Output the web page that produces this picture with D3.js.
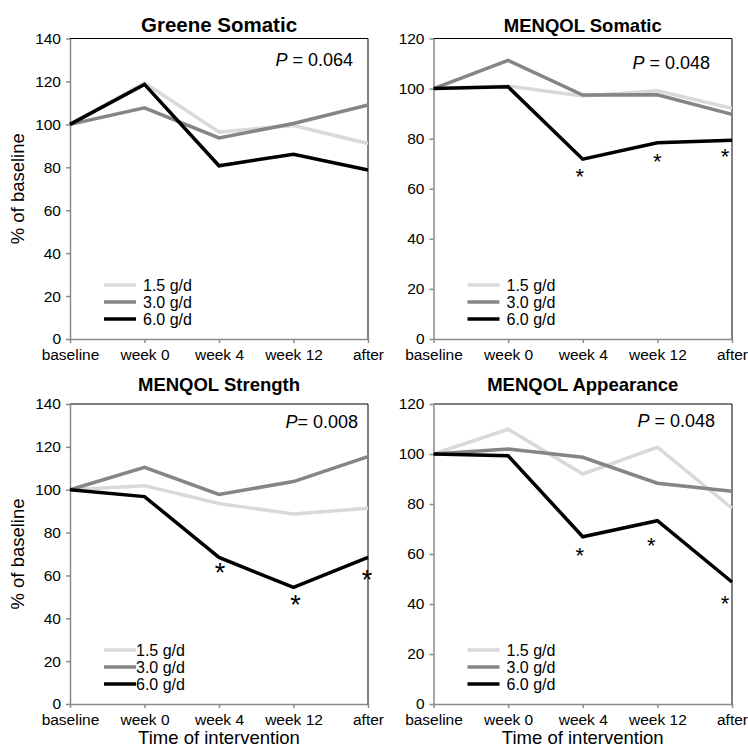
<!DOCTYPE html>
<html>
<head>
<meta charset="utf-8">
<script src="https://cdn.jsdelivr.net/npm/d3@7"></script>
<style>
  html, body { margin: 0; padding: 0; background: #fff; }
  svg { display: block; font-family: "Liberation Sans", Arial, Helvetica, sans-serif; }
</style>
</head>
<body>
<svg id="chart" width="748" height="748"></svg>
<script>
// ---- data ----
const categories = ["baseline", "week 0", "week 4", "week 12", "after"];
const doses = ["1.5 g/d", "3.0 g/d", "6.0 g/d"];
const doseColors = ["#d9d9d9", "#858585", "#000000"];

const greene15 = [100, 119.4, 96.5, 99.5, 91.1];
const greene30 = [100, 107.7, 93.7, 100.4, 109.0];
const greene60 = [100, 118.6, 80.7, 86.1, 78.7];

const somatic15 = [100, 101.0, 97.0, 99.1, 92.1];
const somatic30 = [100, 111.3, 97.4, 97.5, 89.7];
const somatic60 = [100, 100.7, 71.8, 78.4, 79.4];

const strength15 = [100, 101.9, 93.6, 88.7, 91.3];
const strength30 = [100, 110.4, 97.8, 103.8, 115.4];
const strength60 = [100, 96.8, 68.4, 54.4, 68.4];

const appear15 = [100, 109.9, 92.0, 102.7, 78.3];
const appear30 = [100, 102.0, 98.7, 88.3, 85.1];
const appear60 = [100, 99.3, 66.9, 73.3, 48.8];

const titles = ["Greene Somatic", "MENQOL Somatic", "MENQOL Strength", "MENQOL Appearance"];
const pLabels = [" = 0.064", " = 0.048", "= 0.008", " = 0.048"];
const yMaxes = [140, 120, 140, 120];
const yTickStep = 20;

// significance asterisks: category and value where the mark sits
const somaticStarCats = ["week 4", "week 12", "after"];
const somaticStarVals = [66.8, 72.8, 74.8];
const strengthStarCats = ["week 4", "week 12", "after"];
const strengthStarVals = [64.1, 49.3, 61.0];
const appearStarCats = ["week 4", "week 12", "after"];
const appearStarVals = [61.6, 65.6, 42.5];

// ---- layout ----
const panels = [
  { series: [greene15, greene30, greene60], stars: null,
    box: { l: 70, r: 368, t: 38.5, b: 339 }, titleY: 32, pdx: 15, pdy: 27, yLabel: true, xLabel: false,
    starDx: [], starFs: 22, legGap: 7 },
  { series: [somatic15, somatic30, somatic60], stars: [somaticStarCats, somaticStarVals],
    box: { l: 433.5, r: 732, t: 38.5, b: 339 }, titleY: 32, pdx: 22, pdy: 30, yLabel: false, xLabel: false,
    starDx: [-3, 0, -7], starFs: 22, legGap: 7 },
  { series: [strength15, strength30, strength60], stars: [strengthStarCats, strengthStarVals],
    box: { l: 70, r: 368, t: 404, b: 704 }, titleY: 391, pdx: 10, pdy: 24, yLabel: true, xLabel: true,
    starDx: [1, 2, -1], starFs: 27, legGap: 0 },
  { series: [appear15, appear30, appear60], stars: [appearStarCats, appearStarVals],
    box: { l: 433.5, r: 732, t: 404, b: 704 }, titleY: 391, pdx: 17, pdy: 23, yLabel: false, xLabel: true,
    starDx: [-3, -6, -7], starFs: 22, legGap: 7 }
];

const svg = d3.select("#chart");

panels.forEach((p, i) => {
  const { l, r, t, b } = p.box;
  const g = svg.append("g");
  const x = d3.scalePoint().domain(categories).range([l, r]);
  const y = d3.scaleLinear().domain([0, yMaxes[i]]).range([b, t]);

  // frame: top and right (black, thin)
  g.append("path")
    .attr("d", `M${l},${t}H${r}V${b}`)
    .attr("fill", "none").attr("stroke", "#000").attr("stroke-width", 1);

  // y axis
  const yAxis = g.append("g").attr("transform", `translate(${l},0)`)
    .call(d3.axisLeft(y).tickValues(d3.range(0, yMaxes[i] + 1, yTickStep)).tickSize(4).tickPadding(5).tickSizeOuter(0));
  yAxis.select(".domain").attr("stroke", "#8a8a8a").attr("stroke-width", 1.5);
  yAxis.selectAll(".tick line").attr("stroke", "#8a8a8a").attr("stroke-width", 1.5);
  yAxis.selectAll(".tick text").attr("font-size", 15.5).attr("fill", "#000")
    .attr("font-family", "Liberation Sans, Arial, sans-serif");

  // x axis
  const xAxis = g.append("g").attr("transform", `translate(0,${b})`)
    .call(d3.axisBottom(x).tickSize(4).tickPadding(6).tickSizeOuter(0));
  xAxis.select(".domain").attr("stroke", "#8a8a8a").attr("stroke-width", 1.5);
  xAxis.selectAll(".tick line").attr("stroke", "#8a8a8a").attr("stroke-width", 1.5);
  xAxis.selectAll(".tick text").attr("font-size", 15.5).attr("fill", "#000")
    .attr("font-family", "Liberation Sans, Arial, sans-serif");

  // lines
  const line = d3.line().x((d, j) => x(categories[j])).y(d => y(d));
  p.series.forEach((s, k) => {
    g.append("path").datum(s)
      .attr("d", line)
      .attr("fill", "none")
      .attr("stroke", doseColors[k])
      .attr("stroke-width", 3.5);
  });

  // asterisks
  if (p.stars) {
    const [cats, vals] = p.stars;
    cats.forEach((c, k) => {
      g.append("text")
        .attr("x", x(c) + p.starDx[k])
        .attr("y", y(vals[k]) + p.starFs * 0.58)
        .attr("text-anchor", "middle")
        .attr("font-size", p.starFs)
        .text("*");
    });
  }

  // title
  g.append("text")
    .attr("x", (l + r) / 2).attr("y", p.titleY)
    .attr("text-anchor", "middle")
    .attr("font-weight", "bold")
    .attr("font-size", i === 0 ? 20.5 : 18.5)
    .text(titles[i]);

  // P value
  const pt = g.append("text")
    .attr("x", r - p.pdx).attr("y", t + p.pdy)
    .attr("text-anchor", "end")
    .attr("font-size", 18);
  pt.append("tspan").attr("font-style", "italic").text("P");
  pt.append("tspan").text(pLabels[i]);

  // legend
  doses.forEach((d, k) => {
    const ly = b - 54 + k * 17;
    g.append("line")
      .attr("x1", l + 34).attr("x2", l + 66)
      .attr("y1", ly).attr("y2", ly)
      .attr("stroke", doseColors[k]).attr("stroke-width", 3.5);
    g.append("text")
      .attr("x", l + 66 + p.legGap).attr("y", ly + 5.5)
      .attr("font-size", 16)
      .text(d);
  });

  // axis titles
  if (p.yLabel) {
    g.append("text")
      .attr("transform", `translate(24,${(t + b) / 2}) rotate(-90)`)
      .attr("text-anchor", "middle")
      .attr("font-size", 18.5)
      .text("% of baseline");
  }
  if (p.xLabel) {
    g.append("text")
      .attr("x", (l + r) / 2).attr("y", 744)
      .attr("text-anchor", "middle")
      .attr("font-size", 18.5)
      .text("Time of intervention");
  }
});
</script>
</body>
</html>
